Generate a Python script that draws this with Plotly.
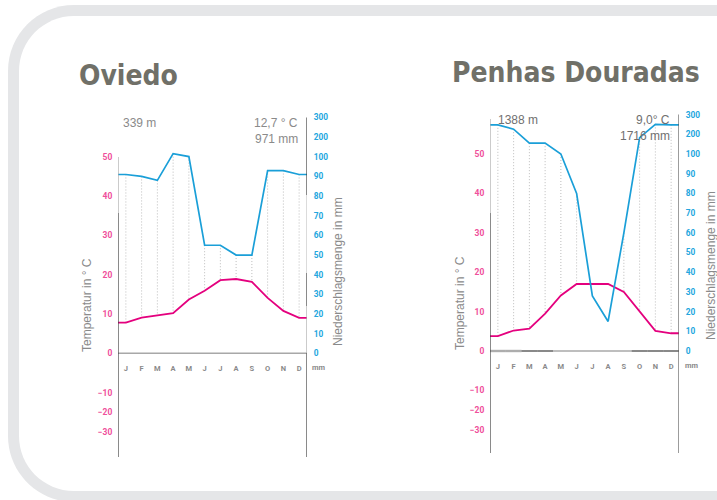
import plotly.graph_objects as go

# ---------------------------------------------------------------------------
# Climate data (Walter-Lieth style diagrams)
# ---------------------------------------------------------------------------
MONTHS = ["J", "F", "M", "A", "M", "J", "J", "A", "S", "O", "N", "D"]

oviedo_temp = [7.8, 9.1, 9.7, 10.2, 13.7, 15.9, 18.6, 18.9, 18.2, 14.1, 10.8, 9.0]
oviedo_prec = [91, 90, 88, 116, 101, 55, 55, 50, 50, 93, 93, 91]

penhas_temp = [3.8, 5.2, 5.7, 9.5, 14.1, 17.0, 17.0, 17.0, 15.0, 10.1, 5.1, 4.5]
penhas_prec = [248, 226, 155, 155, 100, 80, 28, 15, 60, 183, 250, 248]
# frost marks on the zero line: 0 = none, 1 = light bar, 2 = dark bar
penhas_frost = [1, 1, 2, 2, 0, 0, 0, 0, 0, 2, 2, 2]

temp_ticks = [50, 40, 30, 20, 10, 0, -10, -20, -30]
prec_ticks = [300, 200, 100, 90, 80, 70, 60, 50, 40, 30, 20, 10, 0]

stations = [
    dict(name="Oviedo", temp=oviedo_temp, prec=oviedo_prec, frost=None,
         altitude="339 m", mean_temp="12,7 ° C", total_prec="971 mm"),
    dict(name="Penhas Douradas", temp=penhas_temp, prec=penhas_prec, frost=penhas_frost,
         altitude="1388 m", mean_temp="9,0° C", total_prec="1716 mm"),
]

# ---------------------------------------------------------------------------
# Scales: 10 °C = 20 mm, precipitation above 100 mm compressed to 1/10
# ---------------------------------------------------------------------------
def prec_scale(p):
    return p / 2 if p <= 100 else 50 + (p - 100) / 20


def temp_tick_pos(t):
    # the negative part of the temperature scale is drawn compressed below -10
    return t if t >= -10 else -10 + (t + 10) / 2


# ---------------------------------------------------------------------------
# Page geometry (pixels)
# ---------------------------------------------------------------------------
W, H = 717, 500


def PX(x):
    return x / W


def PY(y):
    return 1 - y / H


DOM_TOP, DOM_BOT = 100, 465

geom = [
    dict(x0=118, x1=307, zero=353.3, k=3.93, axis_top_left=157, left_split=213,
         title_x=77, title_y=75, info_left=121, info_right=300, info_y=123, info_dy=15.5,
         info_color="#8a8a8a", ttl_x=87, ttl_y=305, nl_x=338, nl_y=272, mm_x=318.5,
         month_y=367, bottom=457),
    dict(x0=490, x1=679, zero=351, k=3.94, axis_top_left=119, left_split=213,
         title_x=450, title_y=72, info_left=496, info_right=672, info_y=120, info_dy=15.5,
         info_color="#707070", ttl_x=460, ttl_y=303, nl_x=711, nl_y=266, mm_x=691,
         month_y=365, bottom=453),
]

PINK = "#ef4f9b"
CYAN = "#22a6de"
MAGENTA = "#e4007e"
BLUE = "#1a9fd8"
GRAY_TXT = "#8a8a8a"
TITLE_COL = "#707068"

fig = go.Figure()
shapes = []
annotations = []

# Rounded frame around the page
def rounded_rect(x0, y0, x1, y1, r):
    c = 0.5523 * r
    pts = [
        f"M {PX(x0)} {PY(y0 + r)}",
        f"C {PX(x0)} {PY(y0 + r - c)} {PX(x0 + r - c)} {PY(y0)} {PX(x0 + r)} {PY(y0)}",
        f"L {PX(x1)} {PY(y0)}",
        f"L {PX(x1)} {PY(y1)}",
        f"L {PX(x0 + r)} {PY(y1)}",
        f"C {PX(x0 + r - c)} {PY(y1)} {PX(x0)} {PY(y1 - r + c)} {PX(x0)} {PY(y1 - r)}",
        "Z",
    ]
    return " ".join(pts)


shapes.append(dict(type="path", xref="paper", yref="paper", layer="below",
                   path=rounded_rect(8, 5, 780, 502, 66),
                   fillcolor="#e5e6e8", line=dict(width=0)))
shapes.append(dict(type="path", xref="paper", yref="paper", layer="below",
                   path=rounded_rect(19, 16, 780, 491, 55),
                   fillcolor="#ffffff", line=dict(width=0)))

layout_axes = {}

for i, (st, g) in enumerate(zip(stations, geom)):
    xa = "x" if i == 0 else f"x{i + 1}"
    ya = "y" if i == 0 else f"y{2 * i + 1}"
    ya2 = f"y{2 * i + 2}"
    xkey = "xaxis" if i == 0 else f"xaxis{i + 1}"
    ykey = "yaxis" if i == 0 else f"yaxis{2 * i + 1}"
    y2key = f"yaxis{2 * i + 2}"

    t_top = (g["zero"] - DOM_TOP) / g["k"]
    t_bot = (g["zero"] - DOM_BOT) / g["k"]
    yr = [t_bot, t_top]

    def T(py, g=g):
        return (g["zero"] - py) / g["k"]

    temp = st["temp"]
    prec_s = [prec_scale(p) for p in st["prec"]]
    xs = [m + 0.5 for m in range(12)]

    # humid-period hatching: dotted verticals from precipitation down to temperature
    hx, hy = [], []
    for m in range(12):
        if prec_s[m] > temp[m]:
            hx += [xs[m], xs[m], None]
            hy += [prec_s[m], temp[m], None]
    fig.add_trace(go.Scatter(x=hx, y=hy, mode="lines", xaxis=xa, yaxis=ya,
                             line=dict(color="#bcbcbc", width=1, dash="1px,2px"),
                             hoverinfo="skip", showlegend=False))

    # zero line
    fig.add_trace(go.Scatter(x=[0, 12], y=[0, 0], mode="lines", xaxis=xa, yaxis=ya2,
                             line=dict(color="#a8a8a8", width=1.5),
                             hoverinfo="skip", showlegend=False))

    # frost bars on the zero line
    if st["frost"] is not None:
        for code, col, wd in [(1, "#bdbdbd", 2.5), (2, "#2e2e2e", 2)]:
            fx, fy = [], []
            for m in range(12):
                if st["frost"][m] == code:
                    fx += [m, m + 1, None]
                    fy += [0, 0, None]
            fig.add_trace(go.Scatter(x=fx, y=fy, mode="lines", xaxis=xa, yaxis=ya,
                                     line=dict(color=col, width=wd),
                                     hoverinfo="skip", showlegend=False))

    # temperature curve
    fig.add_trace(go.Scatter(x=[0] + xs + [12], y=[temp[0]] + temp + [temp[-1]],
                             mode="lines", xaxis=xa, yaxis=ya,
                             line=dict(color=MAGENTA, width=1.8),
                             hoverinfo="skip", showlegend=False))
    # precipitation curve
    fig.add_trace(go.Scatter(x=[0] + xs + [12], y=[prec_s[0]] + prec_s + [prec_s[-1]],
                             mode="lines", xaxis=xa, yaxis=ya,
                             line=dict(color=BLUE, width=1.7),
                             hoverinfo="skip", showlegend=False))

    # axes
    layout_axes[xkey] = dict(
        domain=[PX(g["x0"]), PX(g["x1"])], range=[0, 12], anchor="free",
        position=PY(g["zero"]), showgrid=False, zeroline=False, showline=False,
        tickmode="array", tickvals=xs, ticktext=MONTHS,
        ticks="outside", ticklen=8, tickcolor="rgba(0,0,0,0)",
        tickfont=dict(family="Roboto", size=7.5, color=GRAY_TXT, weight="bold"),
        fixedrange=True,
    )
    layout_axes[ykey] = dict(
        domain=[PY(DOM_BOT), PY(DOM_TOP)], range=yr, anchor=xa,
        showgrid=False, zeroline=False, showline=False,
        tickmode="array", tickvals=[temp_tick_pos(t) for t in temp_ticks],
        ticktext=[str(t).replace("-", "\u2212") for t in temp_ticks],
        ticks="outside", ticklen=3, tickcolor="rgba(0,0,0,0)",
        tickfont=dict(family="Roboto", size=8.5, color=PINK, weight="bold"),
        fixedrange=True,
    )
    layout_axes[y2key] = dict(
        domain=[PY(DOM_BOT), PY(DOM_TOP)], range=yr, anchor=xa, overlaying=ya,
        side="right", showgrid=False, zeroline=False, showline=False,
        tickmode="array", tickvals=[prec_scale(p) for p in prec_ticks],
        ticktext=[str(p) for p in prec_ticks],
        ticks="outside", ticklen=4, tickcolor="rgba(0,0,0,0)",
        tickfont=dict(family="Roboto", size=8.3, color=CYAN, weight="bold"),
        fixedrange=True,
    )

    # axis lines
    def vline(x, ya_top, ya_bot, col, w=1.2, xa=xa, ya=ya):
        shapes.append(dict(type="line", xref=xa, yref=ya, x0=x, x1=x,
                           y0=ya_top, y1=ya_bot, line=dict(color=col, width=w)))

    vline(0, T(g["axis_top_left"]), T(g["left_split"]), "#a8a8a8")
    vline(0, T(g["left_split"]), T(g["bottom"]), "#3c3c3c")
    if i == 0:
        vline(12, prec_scale(300), T(195), "#3c3c3c")
        vline(12, T(195), T(273), "#c4c4c4")
        vline(12, T(273), T(306), "#3c3c3c")
        vline(12, T(306), 0, "#a8a8a8")
        vline(12, 0, T(g["bottom"]), "#3c3c3c")
    else:
        vline(12, prec_scale(300), T(g["bottom"]), "#5a5a5a")

    # station name
    annotations.append(dict(text=f"<b>{st['name']}</b>", xref="paper", yref="paper",
                            x=PX(g["title_x"]), y=PY(g["title_y"]),
                            xanchor="left", yanchor="middle", showarrow=False,
                            font=dict(family="DejaVu Sans Condensed, Liberation Sans Narrow, sans-serif",
                                      size=28, color=TITLE_COL)))
    # altitude, mean temperature, annual precipitation
    info_font = dict(family="Liberation Sans, Arial, sans-serif", size=12, color=g["info_color"])
    annotations.append(dict(text=st["altitude"], xref="paper", yref="paper",
                            x=PX(g["info_left"]), y=PY(g["info_y"]),
                            xanchor="left", yanchor="middle", showarrow=False, font=info_font))
    annotations.append(dict(text=st["mean_temp"], xref="paper", yref="paper",
                            x=PX(g["info_right"]), y=PY(g["info_y"]),
                            xanchor="right", yanchor="middle", showarrow=False, font=info_font))
    annotations.append(dict(text=st["total_prec"], xref="paper", yref="paper",
                            x=PX(g["info_right"]), y=PY(g["info_y"] + g["info_dy"]),
                            xanchor="right", yanchor="middle", showarrow=False, font=info_font))
    # axis titles
    axis_font = dict(family="Liberation Sans, Arial, sans-serif", size=12, color=GRAY_TXT)
    annotations.append(dict(text="Temperatur in ° C", xref="paper", yref="paper",
                            x=PX(g["ttl_x"]), y=PY(g["ttl_y"]), textangle=-90,
                            xanchor="center", yanchor="middle", showarrow=False, font=axis_font))
    annotations.append(dict(text="Niederschlagsmenge in mm", xref="paper", yref="paper",
                            x=PX(g["nl_x"]), y=PY(g["nl_y"]), textangle=-90,
                            xanchor="center", yanchor="middle", showarrow=False, font=axis_font))
    annotations.append(dict(text="mm", xref="paper", yref="paper",
                            x=PX(g["mm_x"]), y=PY(g["month_y"]),
                            xanchor="center", yanchor="middle", showarrow=False,
                            font=dict(family="Roboto", size=7.5, color=GRAY_TXT, weight="bold")))

fig.update_layout(
    width=W, height=H, margin=dict(l=0, r=0, t=0, b=0),
    paper_bgcolor="#ffffff", plot_bgcolor="rgba(0,0,0,0)",
    showlegend=False, shapes=shapes, annotations=annotations,
    **layout_axes,
)

fig.write_html("out.html")
